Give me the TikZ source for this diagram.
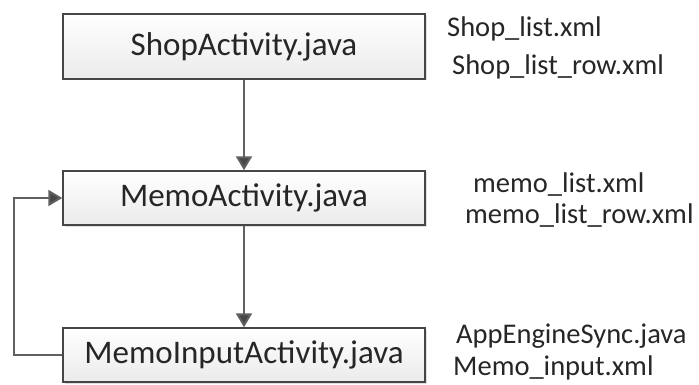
\documentclass[tikz,border=0pt]{standalone}
\usepackage{fontspec}
\setmainfont{Carlito}
\usetikzlibrary{arrows.meta,positioning,shadows}

\tikzset{
  actbox/.style={draw=gray!55!black, line width=1.4pt, top color=white, bottom color=gray!16,
    minimum width=362pt, inner sep=0pt, font=\fontsize{33}{40}\selectfont, text=black!85,
    drop shadow={shadow xshift=1.5pt, shadow yshift=-1.5pt, opacity=0.25}},
  xmlfile/.style={anchor=base west, inner sep=0pt, font=\fontsize{28.5}{34}\selectfont, text=black!85},
  flow/.style={draw=gray!75!black, line width=2pt,
    -{Triangle[width=16pt, length=14pt, fill=black!72]}}
}

\begin{document}
\begin{tikzpicture}[x=1pt, y=-1pt]
  \useasboundingbox (0,0) rectangle (699,385);

  % activities
  \node[actbox, minimum height=65pt] (shop) at (244,46.5) {ShopActivity.java};
  \node[actbox, minimum height=54pt] (memo) at (244,198) {MemoActivity.java};
  \node[actbox, minimum height=54pt] (input) at (244,355) {MemoInputActivity.java};

  % layout and helper files
  \node[xmlfile] (shoplist) at (447,37) {Shop\_list.xml};
  \node[xmlfile] (shoprow) at (452,75) {Shop\_list\_row.xml};
  \node[xmlfile] (memolist) at (473,193) {memo\_list.xml};
  \node[xmlfile] (memorow) at (465,223) {memo\_list\_row.xml};
  \node[xmlfile] (sync) at (456,343) {AppEngineSync.java};
  \node[xmlfile] (memoinput) at (453,375) {Memo\_input.xml};

  % flow
  \coordinate (back) at (14,0);
  \draw[flow] (shop) -- (memo);
  \draw[flow] (memo) -- (input);
  \draw[flow] (input.west) -- (back |- input.west) -- (back |- memo.west) -- (memo.west);
\end{tikzpicture}
\end{document}
